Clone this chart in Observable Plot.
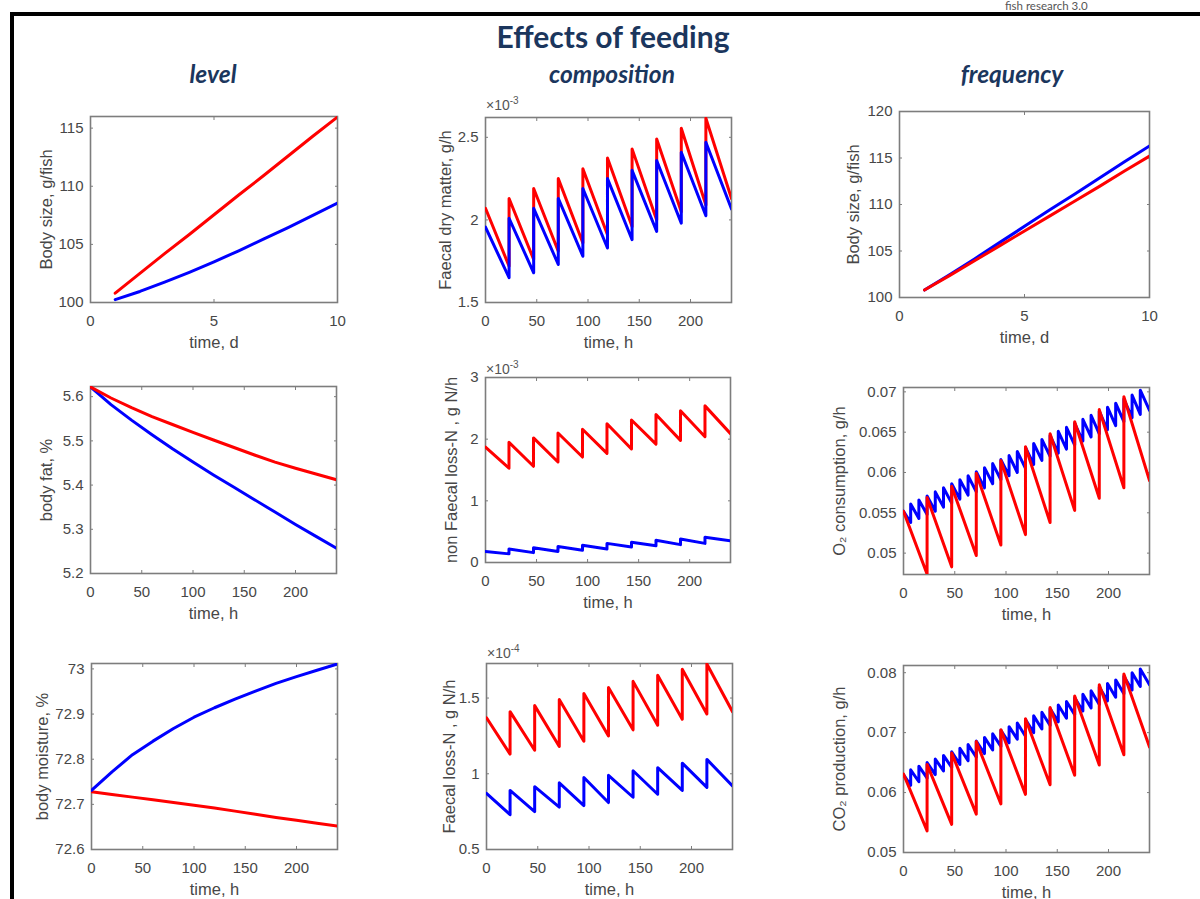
<!DOCTYPE html>
<html><head><meta charset="utf-8">
<script src="https://cdn.jsdelivr.net/npm/d3@7"></script>
<script src="https://cdn.jsdelivr.net/npm/@observablehq/plot@0.6"></script>
<style>
html,body{margin:0;padding:0;background:#fff;}
body{width:1200px;height:899px;position:relative;overflow:hidden;font-family:"Liberation Sans",Arial,sans-serif;}
.bar{position:absolute;background:#000;}
.title{position:absolute;left:313px;width:600px;top:21px;text-align:center;font-family:Lato,"Open Sans",sans-serif;font-weight:700;font-size:30px;line-height:1;color:#1b365d;white-space:nowrap;}
.sub{position:absolute;width:300px;top:62px;text-align:center;font-family:Lato,"Open Sans",sans-serif;font-weight:700;font-style:italic;font-size:24.5px;line-height:1;color:#1b365d;white-space:nowrap;}
.brand{position:absolute;left:1005px;top:0px;font-family:Lato,sans-serif;font-size:11.5px;line-height:1;color:#555;white-space:nowrap;}
.mult{position:absolute;font-size:14px;line-height:1;color:#555;white-space:nowrap;}
.mult sup{font-size:10px;vertical-align:6px;}
.panel{position:absolute;}
</style></head>
<body>
<div class="bar" style="left:10px;top:12px;width:1190px;height:4px"></div>
<div class="bar" style="left:10px;top:12px;width:4px;height:887px"></div>
<div class="brand">fish research 3.0</div>
<div class="title">Effects of feeding</div>
<div class="sub" style="left:63px">level</div>
<div class="sub" style="left:462px">composition</div>
<div class="sub" style="left:862px">frequency</div>
<div class="mult" style="left:486px;top:96px">×10<sup>-3</sup></div>
<div class="mult" style="left:486px;top:360px">×10<sup>-3</sup></div>
<div class="mult" style="left:487px;top:644px">×10<sup>-4</sup></div>
<script>
// ---------- shared tick labels ----------
const dayTicks = [0, 5, 10];
const hourTicks = [0, 50, 100, 150, 200];
// once-a-day meal times (h) and three-meals-a-day times (h)
const mealHours = [23, 47, 71, 95, 119, 143, 167, 191, 215];
const frequentMealHours = [7, 15, 23, 31, 39, 47, 55, 63, 71, 79, 87, 95, 103, 111, 119, 127, 135, 143, 151, 159, 167, 175, 183, 191, 199, 207, 215, 223, 231];

// ---------- Panel 1: level, body size ----------
const p1Days = [1, 2, 3, 4, 5, 6, 7, 8, 9, 10];
const p1Red = [100.8, 102.5, 104.2, 105.85, 107.55, 109.25, 110.9, 112.6, 114.3, 115.95];
const p1Blue = [100.25, 100.95, 101.75, 102.6, 103.5, 104.45, 105.45, 106.45, 107.5, 108.55];
const p1YTicks = [100, 105, 110, 115];

// ---------- Panel 2: composition, faecal dry matter (x10^-3 g/h) ----------
const p2RedStart = 2.07, p2RedEnd = 2.13;
const p2RedTroughs = [1.72, 1.76, 1.81, 1.86, 1.91, 1.96, 2.00, 2.05, 2.09];
const p2RedPeaks = [2.13, 2.19, 2.25, 2.31, 2.375, 2.43, 2.49, 2.555, 2.615];
const p2BlueStart = 1.956, p2BlueEnd = 2.066;
const p2BlueTroughs = [1.65, 1.68, 1.73, 1.78, 1.83, 1.88, 1.93, 1.98, 2.025];
const p2BluePeaks = [2.01, 2.07, 2.13, 2.19, 2.25, 2.30, 2.36, 2.41, 2.47];
const p2YTicks = [1.5, 2, 2.5];

// ---------- Panel 3: frequency, body size ----------
const p3Days = [1, 2, 3, 4, 5, 6, 7, 8, 9, 10];
const p3Blue = [100.8, 102.45, 104.15, 105.9, 107.65, 109.4, 111.1, 112.85, 114.6, 116.3];
const p3Red = [100.8, 102.35, 103.95, 105.55, 107.15, 108.75, 110.35, 111.95, 113.6, 115.2];
const p3YTicks = [100, 105, 110, 115, 120];

// ---------- Panel 4: level, body fat ----------
const p4Hours = [0, 20, 40, 60, 80, 100, 120, 140, 160, 180, 200, 220, 240];
const p4Red = [5.622, 5.597, 5.575, 5.555, 5.537, 5.519, 5.502, 5.485, 5.468, 5.452, 5.438, 5.425, 5.412];
const p4Blue = [5.622, 5.582, 5.547, 5.514, 5.482, 5.452, 5.423, 5.395, 5.367, 5.339, 5.311, 5.284, 5.257];
const p4YTicks = [5.2, 5.3, 5.4, 5.5, 5.6];

// ---------- Panel 5: composition, non faecal loss-N (x10^-3 g N/h) ----------
const p5RedStart = 1.87, p5RedEnd = 2.09;
const p5RedTroughs = [1.53, 1.56, 1.63, 1.71, 1.77, 1.84, 1.92, 1.98, 2.04];
const p5RedPeaks = [1.95, 2.02, 2.10, 2.16, 2.25, 2.31, 2.40, 2.46, 2.54];
const p5BlueStart = 0.18, p5BlueEnd = 0.35;
const p5BlueTroughs = [0.14, 0.16, 0.18, 0.20, 0.22, 0.25, 0.27, 0.29, 0.31];
const p5BluePeaks = [0.22, 0.24, 0.26, 0.28, 0.31, 0.33, 0.36, 0.38, 0.41];
const p5YTicks = [0, 1, 2, 3];

// ---------- Panel 6: frequency, O2 consumption ----------
const p6RedStart = 0.0552, p6RedEnd = 0.0590;
const p6RedTroughs = [0.0474, 0.0483, 0.0497, 0.0510, 0.0523, 0.0538, 0.0553, 0.0568, 0.0581];
const p6RedPeaks = [0.0569, 0.0583, 0.0599, 0.0615, 0.0632, 0.0648, 0.0663, 0.0678, 0.0694];
const p6BlueStart = 0.0552, p6BlueEnd = 0.0677;
const p6BlueTroughs = [0.0538, 0.0543, 0.0548, 0.0552, 0.0557, 0.0562, 0.0567, 0.0572, 0.0576, 0.0581, 0.0586, 0.0591, 0.0596, 0.0600, 0.0605, 0.0610, 0.0615, 0.0620, 0.0624, 0.0629, 0.0634, 0.0639, 0.0644, 0.0648, 0.0653, 0.0658, 0.0663, 0.0668, 0.0672];
const p6BluePeaks = [0.0561, 0.0566, 0.0571, 0.0576, 0.0581, 0.0586, 0.0591, 0.0596, 0.0601, 0.0606, 0.0611, 0.0616, 0.0621, 0.0626, 0.0631, 0.0636, 0.0641, 0.0646, 0.0651, 0.0656, 0.0661, 0.0666, 0.0671, 0.0676, 0.0681, 0.0686, 0.0691, 0.0696, 0.0702];
const p6YTicks = [0.05, 0.055, 0.06, 0.065, 0.07];

// ---------- Panel 7: level, body moisture ----------
const p7Hours = [0, 20, 40, 60, 80, 100, 120, 140, 160, 180, 200, 220, 240];
const p7Blue = [72.731, 72.772, 72.810, 72.840, 72.868, 72.893, 72.914, 72.933, 72.951, 72.968, 72.983, 72.997, 73.011];
const p7Red = [72.728, 72.722, 72.716, 72.710, 72.704, 72.698, 72.692, 72.685, 72.678, 72.671, 72.665, 72.658, 72.652];
const p7YTicks = [72.6, 72.7, 72.8, 72.9, 73];

// ---------- Panel 8: composition, faecal loss-N (x10^-4 g N/h) ----------
const p8RedStart = 1.37, p8RedEnd = 1.41;
const p8RedTroughs = [1.13, 1.155, 1.18, 1.215, 1.25, 1.29, 1.32, 1.36, 1.395];
const p8RedPeaks = [1.41, 1.45, 1.49, 1.53, 1.57, 1.61, 1.65, 1.69, 1.725];
const p8BlueStart = 0.87, p8BlueEnd = 0.92;
const p8BlueTroughs = [0.73, 0.75, 0.78, 0.79, 0.81, 0.845, 0.865, 0.89, 0.91];
const p8BluePeaks = [0.89, 0.915, 0.94, 0.975, 0.99, 1.02, 1.04, 1.07, 1.095];
const p8YTicks = [0.5, 1, 1.5];

// ---------- Panel 9: frequency, CO2 production ----------
const p9RedStart = 0.0631, p9RedEnd = 0.0676;
const p9RedTroughs = [0.0536, 0.0547, 0.0564, 0.0581, 0.0597, 0.0613, 0.0629, 0.0646, 0.0663];
const p9RedPeaks = [0.0647, 0.0666, 0.0685, 0.0705, 0.0723, 0.0742, 0.0761, 0.0780, 0.0798];
const p9BlueStart = 0.0630, p9BlueEnd = 0.0780;
const p9BlueTroughs = [0.0612, 0.0618, 0.0624, 0.0630, 0.0636, 0.0642, 0.0647, 0.0653, 0.0659, 0.0665, 0.0671, 0.0677, 0.0683, 0.0689, 0.0694, 0.0700, 0.0706, 0.0712, 0.0718, 0.0724, 0.0730, 0.0736, 0.0741, 0.0747, 0.0753, 0.0759, 0.0765, 0.0771, 0.0777];
const p9BluePeaks = [0.0638, 0.0644, 0.0650, 0.0656, 0.0662, 0.0668, 0.0674, 0.0680, 0.0686, 0.0692, 0.0698, 0.0704, 0.0710, 0.0716, 0.0722, 0.0728, 0.0734, 0.0740, 0.0746, 0.0752, 0.0758, 0.0764, 0.0770, 0.0776, 0.0782, 0.0788, 0.0794, 0.0800, 0.0806];
const p9YTicks = [0.05, 0.06, 0.07, 0.08];

// ---------- helpers ----------
const RED = "#ff0000", BLUE = "#0000ff";
const frameColor = "#7d7d7d";
const textColor = "#474747";
const fmt = d3.format("~g");

function zipSeries(ts, vs) { return ts.map((t, i) => ({t, v: vs[i]})); }
function sawtooth(v0, jumps, troughs, peaks, vEnd) {
  const pts = [{t: 0, v: v0}];
  jumps.forEach((t, i) => { pts.push({t, v: troughs[i]}); pts.push({t, v: peaks[i]}); });
  pts.push({t: 240, v: vEnd});
  return pts;
}

function panel(cfg) {
  const mL = 82, mR = 14, mT = 20, mB = 54;
  const w = cfg.R - cfg.L, h = cfg.B - cfg.T;
  const marks = [
    Plot.frame({stroke: frameColor, strokeWidth: 1.6}),
    Plot.axisX({anchor: "bottom", ticks: cfg.xTicks, tickSize: -3, tickFormat: () => "", label: null, stroke: frameColor}),
    Plot.axisX({anchor: "top", ticks: cfg.xTicks, tickSize: -3, tickFormat: () => "", label: null, stroke: frameColor}),
    Plot.axisY({anchor: "left", ticks: cfg.yTicks, tickSize: -3, tickFormat: () => "", label: null, stroke: frameColor}),
    Plot.axisY({anchor: "right", ticks: cfg.yTicks, tickSize: -3, tickFormat: () => "", label: null, stroke: frameColor}),
    // tick labels
    Plot.axisX({anchor: "bottom", ticks: cfg.xTicks, tickSize: 0, tickPadding: 13, tickFormat: fmt,
      label: null, fill: textColor, fontSize: 15}),
    Plot.axisY({anchor: "left", ticks: cfg.yTicks, tickSize: 0, tickPadding: 7, tickFormat: fmt,
      label: null, fill: textColor, fontSize: 15}),
    // axis titles
    Plot.axisX({anchor: "bottom", ticks: [], tickSize: 0,
      label: cfg.xLabel, labelAnchor: "center", labelOffset: 45.5, labelArrow: "none", fill: textColor, fontSize: 16.5}),
    Plot.axisY({anchor: "left", ticks: [], tickSize: 0,
      label: cfg.yLabel, labelAnchor: "center", labelOffset: cfg.yLabelOffset, labelArrow: "none", fill: textColor, fontSize: 16.5}),
    ...cfg.series.map(s => Plot.line(s.data, {x: "t", y: "v", stroke: s.color, strokeWidth: 3,
      strokeLinejoin: "round", strokeLinecap: "round", clip: true}))
  ];
  const svg = Plot.plot({
    width: w + mL + mR, height: h + mT + mB,
    marginLeft: mL, marginRight: mR, marginTop: mT, marginBottom: mB,
    x: {domain: cfg.xDomain}, y: {domain: cfg.yDomain},
    style: {fontFamily: "'Liberation Sans', Arial, sans-serif", fontSize: "15px", color: textColor, background: "transparent", overflow: "visible"},
    marks
  });
  const div = document.createElement("div");
  div.className = "panel";
  div.style.left = (cfg.L - mL) + "px";
  div.style.top = (cfg.T - mT) + "px";
  div.appendChild(svg);
  document.body.appendChild(div);
}

panel({L: 90, T: 116, R: 337, B: 302, xDomain: [0, 10], xTicks: dayTicks, yDomain: [100, 116], yTicks: p1YTicks,
  xLabel: "time, d", yLabel: "Body size, g/fish", yLabelOffset: 50.5,
  series: [{data: zipSeries(p1Days, p1Red), color: RED}, {data: zipSeries(p1Days, p1Blue), color: BLUE}]});

panel({L: 485, T: 117, R: 731, B: 302, xDomain: [0, 240], xTicks: hourTicks, yDomain: [1.5, 2.62], yTicks: p2YTicks,
  xLabel: "time, h", yLabel: "Faecal dry matter, g/h", yLabelOffset: 46.5,
  series: [{data: sawtooth(p2RedStart, mealHours, p2RedTroughs, p2RedPeaks, p2RedEnd), color: RED},
           {data: sawtooth(p2BlueStart, mealHours, p2BlueTroughs, p2BluePeaks, p2BlueEnd), color: BLUE}]});

panel({L: 899, T: 111, R: 1149, B: 297, xDomain: [0, 10], xTicks: dayTicks, yDomain: [100, 120], yTicks: p3YTicks,
  xLabel: "time, d", yLabel: "Body size, g/fish", yLabelOffset: 52.5,
  series: [{data: zipSeries(p3Days, p3Blue), color: BLUE}, {data: zipSeries(p3Days, p3Red), color: RED}]});

panel({L: 90, T: 386, R: 336, B: 573, xDomain: [0, 240], xTicks: hourTicks, yDomain: [5.2, 5.623], yTicks: p4YTicks,
  xLabel: "time, h", yLabel: "body fat, %", yLabelOffset: 50.5,
  series: [{data: zipSeries(p4Hours, p4Blue), color: BLUE}, {data: zipSeries(p4Hours, p4Red), color: RED}]});

panel({L: 485, T: 377, R: 730, B: 562, xDomain: [0, 240], xTicks: hourTicks, yDomain: [0, 3], yTicks: p5YTicks,
  xLabel: "time, h", yLabel: "non Faecal loss-N , g N/h", yLabelOffset: 40,
  series: [{data: sawtooth(p5RedStart, mealHours, p5RedTroughs, p5RedPeaks, p5RedEnd), color: RED},
           {data: sawtooth(p5BlueStart, mealHours, p5BlueTroughs, p5BluePeaks, p5BlueEnd), color: BLUE}]});

panel({L: 903, T: 387, R: 1149, B: 574, xDomain: [0, 240], xTicks: hourTicks, yDomain: [0.04735, 0.07054], yTicks: p6YTicks,
  xLabel: "time, h", yLabel: "O₂ consumption, g/h", yLabelOffset: 70,
  series: [{data: sawtooth(p6BlueStart, frequentMealHours, p6BlueTroughs, p6BluePeaks, p6BlueEnd), color: BLUE},
           {data: sawtooth(p6RedStart, mealHours, p6RedTroughs, p6RedPeaks, p6RedEnd), color: RED}]});

panel({L: 91, T: 663, R: 337, B: 849, xDomain: [0, 240], xTicks: hourTicks, yDomain: [72.6, 73.012], yTicks: p7YTicks,
  xLabel: "time, h", yLabel: "body moisture, %", yLabelOffset: 55.5,
  series: [{data: zipSeries(p7Hours, p7Red), color: RED}, {data: zipSeries(p7Hours, p7Blue), color: BLUE}]});

panel({L: 486, T: 663, R: 732, B: 849, xDomain: [0, 240], xTicks: hourTicks, yDomain: [0.5, 1.728], yTicks: p8YTicks,
  xLabel: "time, h", yLabel: "Faecal loss-N , g N/h", yLabelOffset: 43,
  series: [{data: sawtooth(p8RedStart, mealHours, p8RedTroughs, p8RedPeaks, p8RedEnd), color: RED},
           {data: sawtooth(p8BlueStart, mealHours, p8BlueTroughs, p8BluePeaks, p8BlueEnd), color: BLUE}]});

panel({L: 903, T: 665, R: 1149, B: 852, xDomain: [0, 240], xTicks: hourTicks, yDomain: [0.05, 0.0812], yTicks: p9YTicks,
  xLabel: "time, h", yLabel: "CO₂ production, g/h", yLabelOffset: 70,
  series: [{data: sawtooth(p9BlueStart, frequentMealHours, p9BlueTroughs, p9BluePeaks, p9BlueEnd), color: BLUE},
           {data: sawtooth(p9RedStart, mealHours, p9RedTroughs, p9RedPeaks, p9RedEnd), color: RED}]});
</script>
</body></html>
